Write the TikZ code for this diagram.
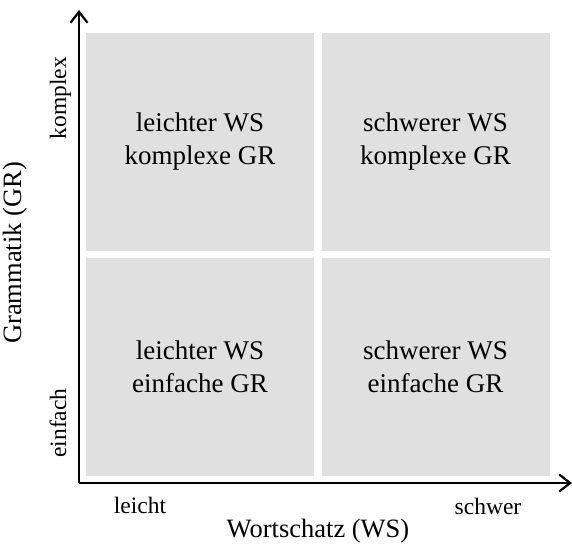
\documentclass[tikz,border=0pt]{standalone}
\usepackage{fontspec}
\setmainfont{Liberation Serif}
\usetikzlibrary{arrows.meta}
\definecolor{boxgray}{RGB}{224,224,224}

\begin{document}
\begin{tikzpicture}[x=1pt,y=-1pt,
        quad/.style={fill=boxgray,minimum width=228pt,minimum height=218pt,inner sep=0pt,align=center,font=\fontsize{27}{33}\selectfont},
        axlabel/.style={font=\fontsize{23.5}{27}\selectfont,inner sep=0pt},
        axtitle/.style={font=\fontsize{26.5}{30}\selectfont,inner sep=0pt},
        axis/.style={line width=2.4pt,-{Straight Barb[length=11pt,width=17pt,line width=2.2pt]}}]
        \useasboundingbox (0,0) rectangle (572,544);
        \node[quad] (lk) at (200,142) {leichter WS\\komplexe GR};
        \node[quad] (sk) at (435.5,142) {schwerer WS\\komplexe GR};
        \node[quad] (le) at (200,366.5) {leichter WS\\einfache GR};
        \node[quad] (se) at (435.5,366.5) {schwerer WS\\einfache GR};
        \coordinate (o) at (79,483);
        \coordinate (ytip) at (79,10);
        \coordinate (xtip) at (572,483);
        \draw[axis] (o)--(ytip);
        \draw[axis] (o)--(xtip);
        \node[axlabel,anchor=base] (leicht) at (140,513) {leicht};
        \node[axlabel,anchor=base] (schwer) at (488,514) {schwer};
        \node[axtitle,anchor=base] (ws) at (318,537) {Wortschatz (WS)};
        \node[axlabel,anchor=base,rotate=90] (komplex) at (66,98) {komplex};
        \node[axlabel,anchor=base,rotate=90] (einfach) at (66,423) {einfach};
        \node[axtitle,anchor=base,rotate=90] (gr) at (21,253) {Grammatik (GR)};
\end{tikzpicture}
\end{document}
